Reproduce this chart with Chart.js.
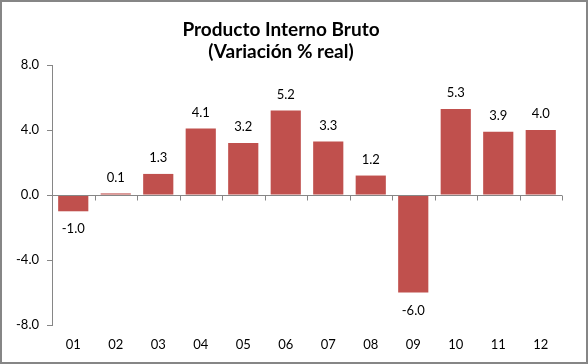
<!DOCTYPE html>
<html><head><meta charset="utf-8">
<script src="https://cdn.jsdelivr.net/npm/chart.js@4"></script>
<style>html,body{margin:0;padding:0;background:#fff}#wrap{width:588px;height:364px}</style>
</head><body><div id="wrap"><canvas id="c" width="588" height="364"></canvas></div>
<script>
const categories = ["01","02","03","04","05","06","07","08","09","10","11","12"];
const values = [-1.0, 0.1, 1.3, 4.1, 3.2, 5.2, 3.3, 1.2, -6.0, 5.3, 3.9, 4.0];
const yTicks = [-8, -4, 0, 4, 8];
const titleLines = ["Producto Interno Bruto", "(Variación % real)"];

const FONT = "Lato, 'Open Sans', sans-serif";
const AXIS = "#868686";

const extras = {
  id: 'extras',
  afterDatasetsDraw(chart) {
    const ctx = chart.ctx, x = chart.scales.x, y = chart.scales.y;
    const y0 = Math.round(y.getPixelForValue(0)) + 0.5;
    ctx.save();
    ctx.strokeStyle = AXIS; ctx.lineWidth = 1;
    ctx.beginPath();
    ctx.moveTo(x.left, y0); ctx.lineTo(x.right, y0);
    const step = (x.right - x.left) / categories.length;
    for (let i = 1; i <= categories.length; i++) {
      const px = Math.round(x.left + i * step) + 0.5;
      ctx.moveTo(px, y0); ctx.lineTo(px, y0 + 5);
    }
    ctx.stroke();
    // data labels
    ctx.fillStyle = "#000";
    ctx.font = "13px " + FONT;
    ctx.textAlign = "center"; ctx.textBaseline = "middle";
    const meta = chart.getDatasetMeta(0);
    meta.data.forEach((bar, i) => {
      const v = values[i];
      const yy = v >= 0 ? bar.y - 16 : bar.y + 18;
      ctx.fillText(v.toFixed(1), bar.x, yy);
    });
    // frame
    ctx.strokeStyle = AXIS; ctx.lineWidth = 2;
    ctx.strokeRect(1, 1, chart.width - 2, chart.height - 2);
    ctx.restore();
  }
};

new Chart(document.getElementById('c'), {
  type: 'bar',
  data: {
    labels: categories,
    datasets: [{
      data: values,
      backgroundColor: "#C0504D",
      borderWidth: 0,
      barPercentage: 0.71,
      categoryPercentage: 1.0
    }]
  },
  options: {
    responsive: false,
    animation: false,
    devicePixelRatio: 1,
    layout: { padding: { left: 0, right: 26, top: 0, bottom: 0 } },
    plugins: {
      legend: { display: false },
      tooltip: { enabled: false },
      title: {
        display: true,
        text: titleLines,
        color: "#000",
        font: { family: FONT, size: 19, weight: 'bold', lineHeight: 1.16 },
        padding: { top: 19, bottom: 2 }
      }
    },
    scales: {
      x: {
        grid: { display: false, drawTicks: false },
        border: { display: false },
        ticks: { color: "#000", font: { family: FONT, size: 13 }, padding: 12, maxRotation: 0 },
        afterFit(s) { s.height = 39; }
      },
      y: {
        min: -8, max: 8,
        afterBuildTicks(s) { s.ticks = yTicks.map(v => ({ value: v })); },
        grid: { drawOnChartArea: false, drawTicks: true, tickLength: 5, color: AXIS },
        border: { display: true, color: AXIS },
        ticks: { color: "#000", font: { family: FONT, size: 13 }, padding: 8,
          callback: v => Number(v).toFixed(1) },
        afterFit(s) { s.width = 52; }
      }
    }
  },
  plugins: [extras]
});
</script>
</body></html>
